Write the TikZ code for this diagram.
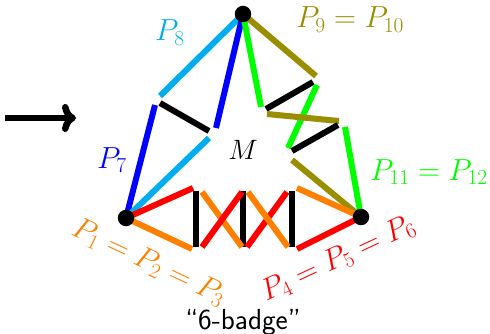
\RequirePackage{fix-cm}
\documentclass[tikz,border=0pt]{standalone}
\usetikzlibrary{arrows.meta}
\definecolor{pcyan}{RGB}{0,174,239}
\definecolor{polive}{RGB}{153,142,0}
\definecolor{pgreen}{RGB}{0,255,0}
\definecolor{pblue}{RGB}{0,0,255}
\definecolor{pred}{RGB}{255,0,0}
\definecolor{porange}{RGB}{255,128,0}
\tikzset{
  seg/.style={line width=6pt},
  vdot/.style={circle,fill=black,inner sep=0pt,minimum size=16.5pt},
  lab/.style={font=\fontsize{30.5}{36}\selectfont, inner sep=0pt},
  mlab/.style={font=\fontsize{28}{34}\selectfont, inner sep=0pt},
  sflab/.style={font=\fontsize{29}{34}\selectfont\sffamily, inner sep=0pt},
}
\begin{document}
\begin{tikzpicture}[x=1pt,y=-1pt]
\useasboundingbox (0,0) rectangle (490,334);
% main vertices
\coordinate (T) at (243,14);
\coordinate (L) at (126,218);
\coordinate (R) at (361,217);
% left side
\coordinate (c1) at (160,96);
\coordinate (b1) at (216,128);
\coordinate (k1a) at (160,103);
\coordinate (k1b) at (209,131);
\coordinate (b2) at (155,105);
\coordinate (c2) at (209,138);
% right side
\coordinate (g1) at (261,107);
\coordinate (o1) at (316,76);
\coordinate (k2a) at (266,109);
\coordinate (k2b) at (313,82);
\coordinate (g2a) at (317,85);
\coordinate (g2b) at (288,148);
\coordinate (o2a) at (267,114);
\coordinate (o2b) at (339,121);
\coordinate (k3a) at (338,125);
\coordinate (k3b) at (292,151);
\coordinate (g3) at (345,127);
\coordinate (o3) at (292,160);
% bottom
\coordinate (rL) at (193,188);
\coordinate (oL) at (192,249);
\coordinate (v1t) at (196,191); \coordinate (v1b) at (196,247);
\coordinate (v2t) at (243,191); \coordinate (v2b) at (243,247);
\coordinate (v3t) at (292,191); \coordinate (v3b) at (292,247);
\coordinate (x1a) at (202,192); \coordinate (x1b) at (242,247);
\coordinate (x2a) at (202,247); \coordinate (x2b) at (242,192);
\coordinate (x3a) at (248,192); \coordinate (x3b) at (288,247);
\coordinate (x4a) at (247,247); \coordinate (x4b) at (287,192);
\coordinate (oR) at (297,188);
\coordinate (rR) at (297,249);
% arrow
\coordinate (arrA) at (5,118);
\coordinate (arrB) at (76,118);
\draw[line width=6.5pt, -{Computer Modern Rightarrow[length=14pt,width=28pt]}] (arrA) -- (arrB);

% left side lines
\draw[seg,pcyan] (T) -- (c1);
\draw[seg,pblue] (T) -- (b1);
\draw[seg,black] (k1a) -- (k1b);
\draw[seg,pblue] (b2) -- (L);
\draw[seg,pcyan] (c2) -- (L);
% right side lines
\draw[seg,pgreen] (T) -- (g1);
\draw[seg,polive] (T) -- (o1);
\draw[seg,black] (k2a) -- (k2b);
\draw[seg,pgreen] (g2a) -- (g2b);
\draw[seg,polive] (o2a) -- (o2b);
\draw[seg,black] (k3a) -- (k3b);
\draw[seg,pgreen] (g3) -- (R);
\draw[seg,polive] (o3) -- (R);
% bottom lines
\draw[seg,black] (v1t) -- (v1b);
\draw[seg,black] (v2t) -- (v2b);
\draw[seg,black] (v3t) -- (v3b);
\draw[seg,pred] (L) -- (rL);
\draw[seg,porange] (L) -- (oL);
\draw[seg,porange] (x1a) -- (x1b);
\draw[seg,pred] (x2a) -- (x2b);
\draw[seg,pred] (x4a) -- (x4b);
\draw[seg,porange] (x3a) -- (x3b);
\draw[seg,porange] (oR) -- (R);
\draw[seg,pred] (rR) -- (R);

% vertex dots
\node[vdot] (Tn) at (T) {};
\node[vdot] (Ln) at (L) {};
\node[vdot] (Rn) at (R) {};

% labels
\node[lab,text=pcyan,anchor=base] (l8) at (170,41) {$P_8$};
\node[lab,text=polive,anchor=base] (l9) at (350,28) {$P_9=P_{10}$};
\node[lab,text=pblue,anchor=base] (l7) at (112,168) {$P_7$};
\node[mlab,anchor=base] (lM) at (243,160) {$M$};
\node[lab,text=pgreen,anchor=base] (l11) at (429,180) {$P_{11}=P_{12}$};
\node[lab,text=porange,rotate=-25] (l1) at (149,262) {$P_1=P_2=P_3$};
\node[lab,text=pred,rotate=25] (l4) at (338,259) {$P_4=P_5=P_6$};
\node[sflab,anchor=base] (badge) at (243,329) {``6-badge''};
\end{tikzpicture}
\end{document}
